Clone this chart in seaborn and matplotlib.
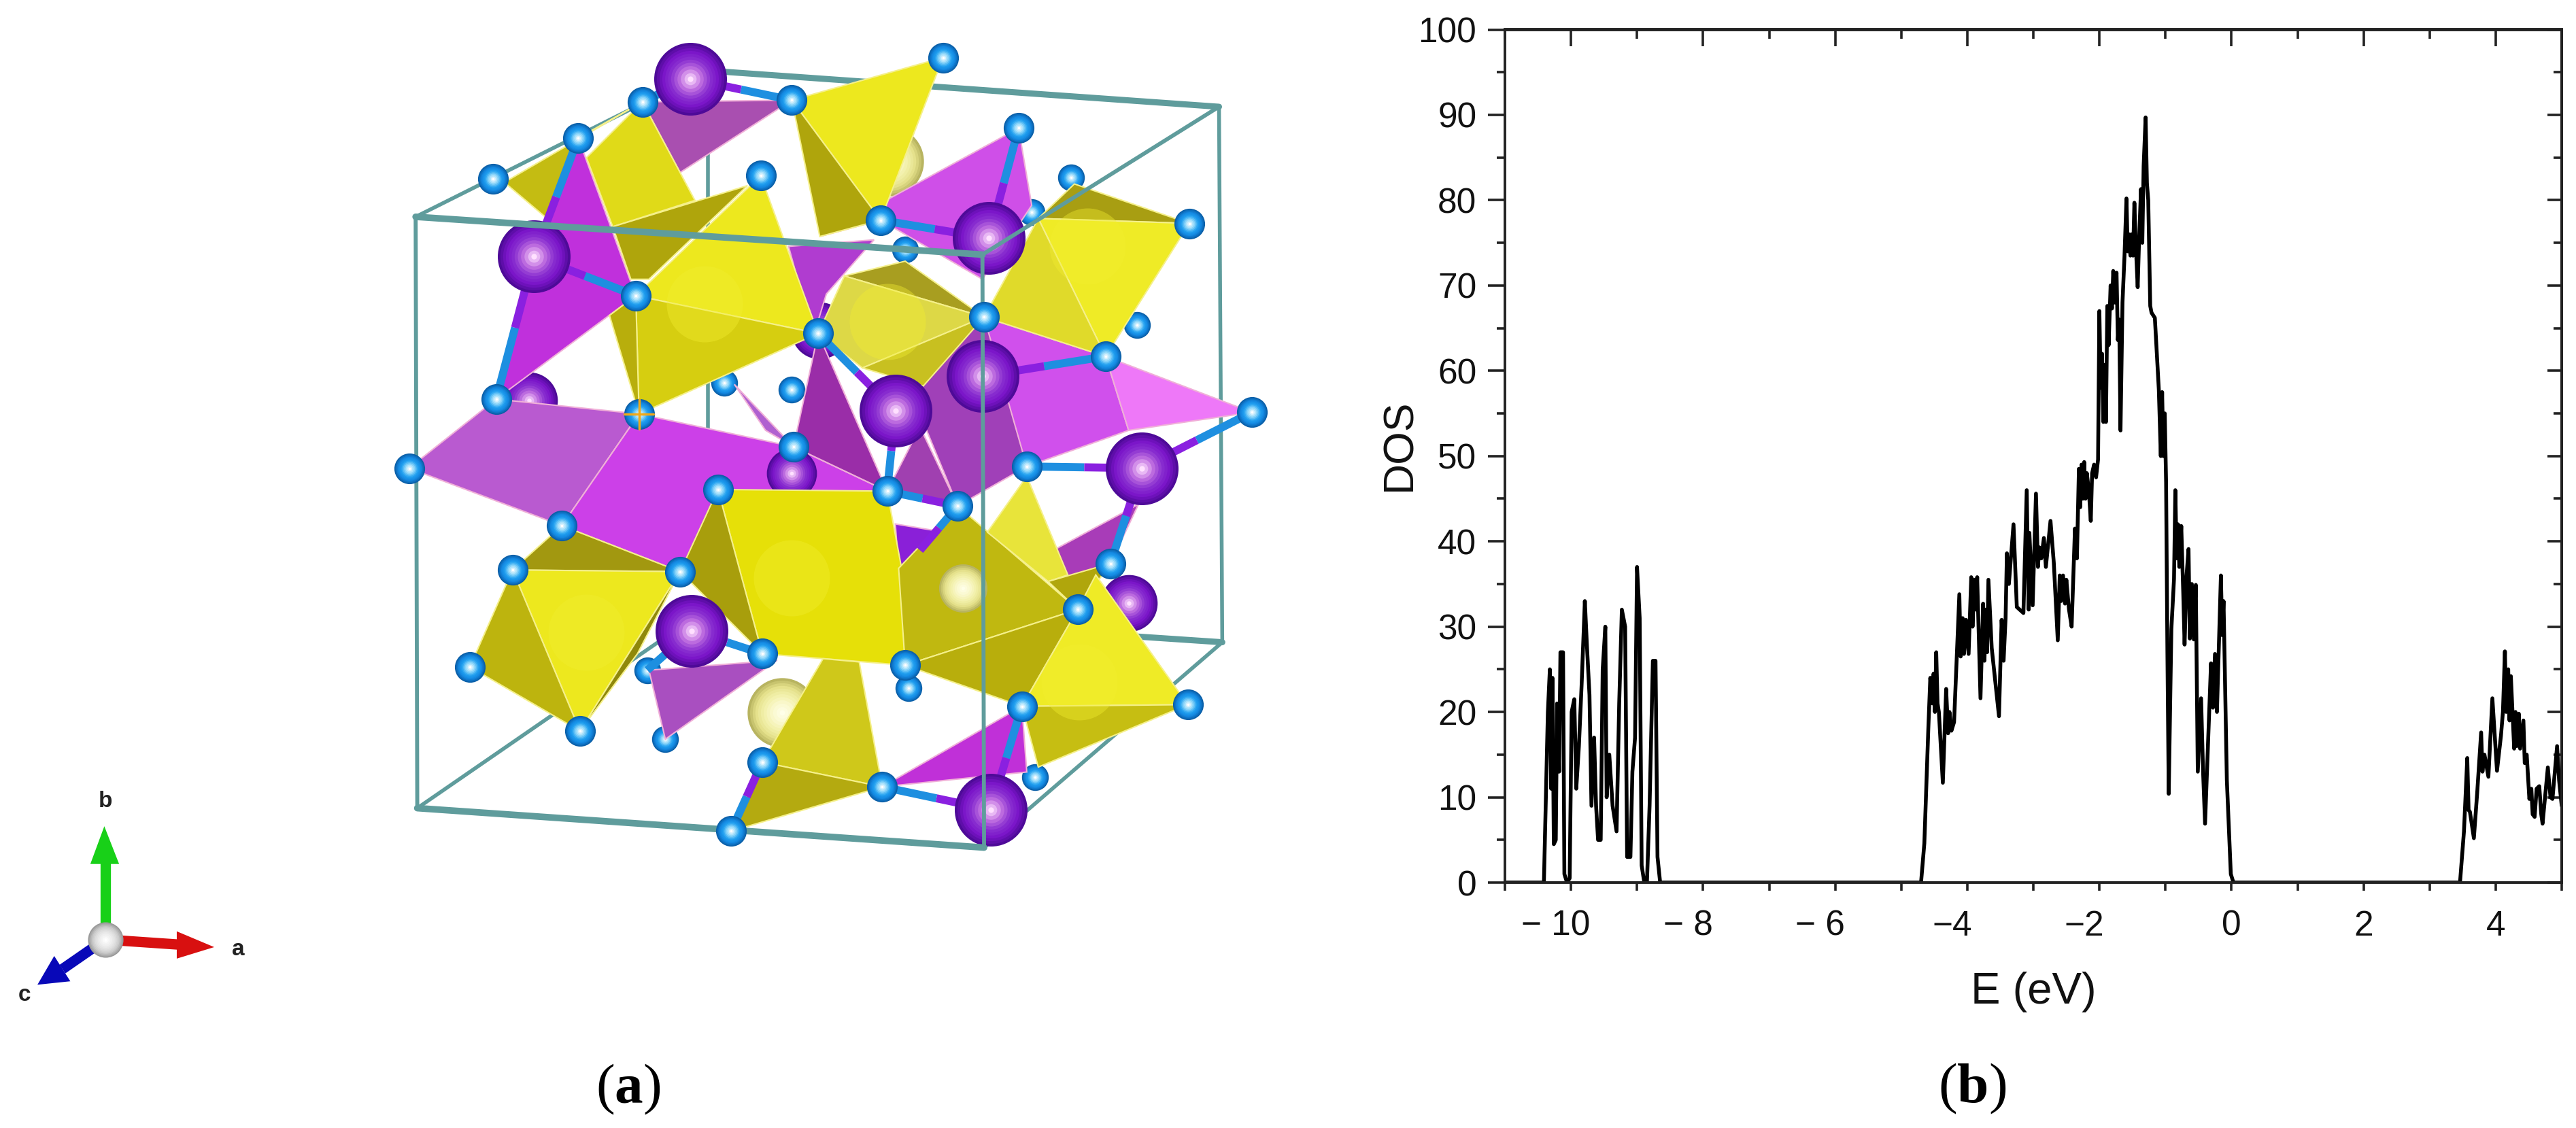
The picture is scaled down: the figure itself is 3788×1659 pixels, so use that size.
#!/usr/bin/env python3
"""Crystal structure sketch (a) and density of states (b)"""

import matplotlib.pyplot as plt
import numpy as np
import pandas as pd
import seaborn as sns
from matplotlib.colors import LinearSegmentedColormap
from matplotlib.patches import Polygon
from matplotlib.ticker import MultipleLocator
from matplotlib.transforms import ScaledTranslation

sns.set_theme(style='ticks')
plt.rcParams['font.family'] = ['Liberation Sans', 'DejaVu Sans']
plt.rcParams['mathtext.fontset'] = 'custom'
plt.rcParams['mathtext.rm'] = 'Liberation Serif'
plt.rcParams['mathtext.bf'] = 'Liberation Serif:bold'

# DOS curve, panel (b)
band1_e = [-11.0, -10.41, -10.38, -10.35, -10.32, -10.30, -10.28, -10.26, -10.23, -10.21, -10.18, -10.16, -10.12,
           -10.10, -10.06, -10.02, -9.99, -9.95, -9.92, -9.88, -9.84, -9.79, -9.76, -9.72, -9.69, -9.65, -9.62,
           -9.59, -9.55, -9.52, -9.48, -9.46, -9.42, -9.37, -9.31, -9.27, -9.23, -9.18, -9.15, -9.10, -9.07, -9.03,
           -9.00, -8.96, -8.93, -8.89, -8.85, -8.81, -8.76, -8.72, -8.69, -8.65]
band1_dos = [0, 0, 10, 20, 25, 11, 24, 4.5, 5, 21, 13, 27, 27,
             1, 0, 0.5, 20, 21.5, 11, 16, 23, 33, 28, 22, 9, 17, 9,
             5, 5, 25, 30, 10, 15, 9, 6, 21, 32, 30, 3, 3, 13, 17,
             37, 31, 2, 0, 0, 9, 26, 26, 3, 0]

band2_e = [-4.70, -4.65, -4.59, -4.56, -4.53, -4.51, -4.49, -4.47, -4.45, -4.43,
           -4.37, -4.32, -4.29, -4.27, -4.24, -4.20, -4.12, -4.10, -4.07, -4.05,
           -4.02, -3.98, -3.94, -3.92, -3.89, -3.87, -3.85, -3.80, -3.76, -3.74,
           -3.72, -3.70, -3.68, -3.63, -3.52, -3.48, -3.45, -3.42, -3.40, -3.37,
           -3.33, -3.30, -3.25, -3.15, -3.10, -3.07, -3.06, -3.01, -2.96, -2.93,
           -2.91, -2.88, -2.84, -2.81, -2.74, -2.69, -2.63, -2.60, -2.58, -2.55,
           -2.52, -2.50, -2.46, -2.42, -2.37, -2.34, -2.31, -2.29, -2.27, -2.25,
           -2.23, -2.21, -2.19, -2.16, -2.13, -2.11, -2.08, -2.05, -2.02, -2.00,
           -1.98, -1.96, -1.94, -1.92, -1.90, -1.88, -1.86, -1.83, -1.81, -1.79,
           -1.77, -1.74, -1.72, -1.70, -1.68, -1.65, -1.62, -1.59, -1.57, -1.55,
           -1.53, -1.51, -1.49, -1.47, -1.45, -1.42, -1.40, -1.37, -1.35, -1.33,
           -1.30, -1.28, -1.26, -1.23, -1.21, -1.16, -1.13, -1.10, -1.07, -1.05,
           -1.03, -1.01, -0.99, -0.97, -0.95, -0.91, -0.87, -0.85, -0.83, -0.81,
           -0.79, -0.76, -0.73, -0.71, -0.68, -0.65, -0.63, -0.60, -0.57, -0.54,
           -0.51, -0.46, -0.43, -0.40, -0.34, -0.31, -0.28, -0.25, -0.22, -0.16,
           -0.14, -0.12, -0.07, -0.01, 0.03]
band2_dos = [0, 4.6, 18, 24, 21, 24.5, 20, 27, 21, 20,
             11.7, 22.7, 17.5, 20, 17.8, 18.8, 33.8, 26.5, 31, 26.8,
             30.8, 26.8, 35.8, 30, 35.5, 32, 35.8, 21.6, 32.7, 26,
             32, 27, 35.5, 27.5, 19.5, 30.8, 26, 31, 38.6, 35,
             39, 42, 32.3, 31.6, 46, 32, 41, 32.5, 45.6, 37,
             39.3, 38, 40.4, 37, 42.4, 37.5, 28.4, 36, 33, 36,
             32.7, 35.5, 32, 30, 41.5, 38, 48.5, 44, 49, 45,
             49.3, 45, 48, 46, 42.4, 48, 49, 47.5, 49.6, 67,
             58, 62, 54, 60.7, 54, 67.6, 63, 70, 67.3, 71.7,
             68, 71.5, 63.6, 66, 53, 68, 73.4, 80.2, 74, 76,
             73.5, 76, 73.5, 79.7, 75, 69.8, 75, 81.3, 75, 84,
             89.7, 82, 80, 67.6, 66.8, 66.2, 62, 57.8, 50, 57.5,
             50, 55, 46.9, 27, 10.4, 29.7, 35.6, 46, 38, 42,
             37, 41.8, 33.9, 27.9, 36, 39.1, 28.6, 35, 28.5, 34.9,
             13, 21.6, 13, 6.9, 19.4, 25.7, 20.5, 26.8, 20, 36,
             29, 33, 12, 1, 0]

band3_e = [3.46, 3.52, 3.57, 3.59, 3.61, 3.67, 3.72, 3.78, 3.80, 3.83, 3.89, 3.95, 4.02, 4.08, 4.11, 4.14, 4.16,
           4.19, 4.21, 4.23, 4.28, 4.30, 4.32, 4.35, 4.37, 4.42, 4.44, 4.47, 4.51, 4.54, 4.56, 4.59, 4.62, 4.66,
           4.69, 4.71, 4.79, 4.83, 4.86, 4.93, 4.96, 5.0]
band3_dos = [0, 6, 14.6, 8.5, 8.3, 5.2, 10.5, 17.6, 13, 15, 12.4, 21.6, 13.1, 17.2, 20, 27.1, 20,
             25, 19, 24.2, 15.7, 20, 16, 19.8, 15.7, 19, 14, 15, 9.8, 11, 8, 7.7, 11, 11.3,
             8, 6.9, 13.5, 10, 9.8, 16, 12, 9]

major_x = [-10, -8, -6, -4, -2, 0, 2, 4]
major_x_labels = ['\u2212 10', '\u2212 8', '\u2212 6', '\u22124', '\u22122', '0', '2', '4']

# Structure sketch, panel (a): everything below is in the axes units of the sketch
box_back_thick = [((431, 370), (744, 391)), ((431, 43), (742, 65))]
box_back_thin = [((431, 43), (431, 370)), ((254, 492), (431, 370)), ((599, 516), (744, 391)), ((742, 65), (744, 391)),
                 ((253, 132), (431, 43))]
box_front_thick = [((253, 132), (598, 155)), ((254, 492), (599, 516))]
box_front_thin = [((253, 132), (254, 492)), ((598, 155), (599, 516)), ((598, 155), (742, 65))]

O = {1: (391, 62), 2: (482, 61), 3: (574, 35), 4: (352, 84), 5: (300, 109), 6: (463, 107), 7: (620, 78),
     8: (652, 108), 9: (536, 134), 10: (724, 136), 11: (628, 129), 12: (387, 180), 13: (551, 152), 14: (599, 193),
     15: (692, 198), 16: (498, 203), 17: (673, 217), 18: (302, 243), 19: (389, 252), 20: (441, 233), 21: (482, 237),
     22: (762, 251), 23: (483, 272), 24: (249, 285), 25: (625, 284), 26: (437, 298), 27: (540, 299), 28: (583, 308),
     29: (342, 320), 30: (312, 347), 31: (414, 348), 32: (676, 343), 33: (656, 371), 34: (464, 398), 35: (551, 405),
     36: (553, 419), 37: (286, 406), 38: (394, 408), 39: (622, 430), 40: (723, 429), 41: (353, 445), 42: (405, 450),
     43: (464, 464), 44: (537, 479), 45: (630, 473), 46: (445, 506)}
back_oxygens = [8, 11, 13, 15, 20, 21, 36, 38, 42, 45]
front_oxygens = [k for k in O if k not in back_oxygens]

K = {'p1': (420, 48), 'p2': (325, 156), 'p3': (602, 145), 'p5': (545, 250), 'p6': (598, 229), 'p7': (695, 285),
     'p10': (421, 384), 'p11': (603, 493)}
back_purple = [(499, 201), (322, 244), (687, 367)]
mid_purple = [(482, 288)]
pale_back = [(541, 98), (476, 434)]
pale_front = [(586, 358)]
inner_spheres = [(429, 185), (357, 385), (482, 352), (540, 196), (662, 150), (657, 415)]

purple_faces = [
    ('#A94FB0', [O[1], O[2], (414, 105)]),
    ('#C030DC', [O[4], O[12], O[18], (325, 156)]),
    ('#CF4FE8', [O[7], (628, 125), (598, 170), O[9], (499, 144)]),
    ('#B03CD0', [(480, 150), (532, 146), (503, 179), (495, 205)]),
    ('#D050EC', [O[14], O[17], (687, 262), O[25], (565, 255)]),
    ('#EE78F8', [O[17], O[22], (687, 262)]),
    ('#B95AD0', [O[24], O[18], O[19], O[29]]),
    ('#CC40E8', [O[19], O[23], O[27], (540, 320), O[31], O[29]]),
    ('#A040B8', [(555, 240), O[14], O[25], O[28]]),
    ('#B060D0', [(447, 234), O[23], (466, 262)]),
    ('#9A2DA8', [O[16], O[27], O[23]]),
    ('#A040B0', [O[27], O[28], (560, 260)]),
    ('#A83CB8', [(643, 334), (693, 307), O[32], (648, 352)]),
    ('#A94FC0', [(395, 408), (473, 402), O[42]]),
    ('#C030D8', [O[39], (625, 470), O[44]]),
    ('#8A20D8', [(545, 319), (569, 323), (547, 347)]),
]
yellow_faces = [
    ('#EDE81E', [O[2], O[3], O[9]]),
    ('#AFA50C', [O[2], (499, 144), O[9]]),
    ('#C4BC12', [(307, 111), (333, 133), O[4], O[1]]),
    ('#E0DA18', [O[1], (423, 122), (373, 138), (357, 96)]),
    ('#AFA50C', [(455, 113), (373, 138), (384, 170), (395, 170)]),
    ('#EDE81E', [O[6], O[12], O[16]]),
    ('#D6CE10', [O[12], O[16], O[19]]),
    ('#B8AE0C', [(371, 192), O[12], O[19]]),
    ('#A89E12', [(654, 112), (632, 133), O[10]]),
    ('#EFEB26', [(632, 133), O[10], O[17]]),
    ('#E0DA2A', [O[14], (632, 133), O[17]]),
    ('#A89E20', [(514, 168), (551, 159), O[14]]),
    ('#DDD846', [(514, 168), O[14], (525, 224), O[16]]),
    ('#C8C020', [(525, 224), O[14], (562, 235)]),
    ('#A29810', [O[29], O[30], O[31]]),
    ('#EDE81E', [O[30], O[31], O[41]]),
    ('#BDB40E', [O[30], O[37], O[41]]),
    ('#8F880A', [O[31], O[41], (388, 398)]),
    ('#E6E008', [O[26], O[27], (549, 347), O[35], O[34]]),
    ('#A89E0C', [O[26], O[31], O[34]]),
    ('#C0B810', [O[28], (547, 346), O[35], O[33]]),
    ('#E8E43A', [(625, 290), (601, 324), (638, 354), (650, 350)]),
    ('#B0A60C', [(638, 354), O[32], O[33]]),
    ('#B8AE0C', [O[35], O[33], O[39]]),
    ('#EFEB26', [(667, 350), O[40], O[39], O[33]]),
    ('#C6BE12', [O[39], O[40], (632, 467)]),
    ('#CFC81A', [(501, 401), (523, 403), O[44], O[43]]),
    ('#B4AA10', [O[43], O[44], O[46]]),
]
bonds = [(O[4], K['p2']), (O[18], K['p2']), (O[12], K['p2']), (O[1], K['p1']), (O[2], K['p1']), (O[9], K['p3']),
         (O[7], K['p3']), (O[16], K['p5']), (O[17], K['p6']), (O[25], K['p7']), (O[22], K['p7']), (O[32], K['p7']),
         (O[27], K['p5']), (O[34], K['p10']), (O[38], K['p10']), (O[44], K['p11']), (O[39], K['p11']),
         (O[46], O[43]), (O[27], O[28]), (O[28], (560, 335))]

oxygen_shade = ['#0A5FA8', '#1386E0', '#20A0F0', '#90D8FA', '#FFFFFF']
purple_shade = ['#4E0A98', '#7A14C8', '#8A30D0', '#C070E0', '#FFE0FF']
pale_shade = ['#B8B460', '#E4E08A', '#F2F0A8', '#FAF8CC', '#FFFFE8']
centre_shade = ['#9A9A9A', '#C8C8C8', '#E0E0E0', '#F0F0F0', '#FFFFFF']

axis_arrows = [
    ('#18D018', (64, 572), (64, 525), [(63.5, 503), (55, 526), (72.5, 526)]),
    ('#D81010', (64, 572), (108, 575), [(130.4, 576.6), (107.6, 567), (107.6, 583.6)]),
    ('#0808B8', (64, 572), (38, 590), [(22.8, 599.5), (33, 582), (42.8, 597.4)]),
]
axis_letters = [('b', 64, 488), ('a', 145, 578), ('c', 15, 606)]

W, H = 3788, 1659


def scatter(ax, points, size, color, zorder, alpha=1.0):
    """One layer of round atoms"""
    df = pd.DataFrame(points, columns=['x', 'y'])
    sns.scatterplot(data=df, x='x', y='y', s=size, color=color, linewidth=0, alpha=alpha, zorder=zorder, ax=ax,
                    legend=False, clip_on=False)


def spheres(ax, points, size, colors, zorder):
    """Fake shading with shrinking discs"""
    cmap = LinearSegmentedColormap.from_list('shade', colors)
    for t in np.linspace(0, 1, 12):
        scatter(ax, points, size * (1 - t) ** 1.6 + size * 0.006, cmap(t), zorder)


def draw_faces(ax, faces, edge, zorder):
    for color, pts in faces:
        ax.add_patch(Polygon(pts, closed=True, facecolor=color, edgecolor=edge, linewidth=1.5, zorder=zorder))


def draw_edges(ax, edges, width, zorder):
    for a, b in edges:
        ax.plot([a[0], b[0]], [a[1], b[1]], color='#5F9C9C', lw=width, zorder=zorder)


def draw_structure(ax):
    ax.set_xlim(0, W / 2.4158)
    ax.set_ylim(H / 2.4158, 0)
    ax.axis('off')

    draw_edges(ax, box_back_thick, 6.5, 1)
    draw_edges(ax, box_back_thin, 4, 1)

    spheres(ax, back_purple, 3600, purple_shade, 2)
    spheres(ax, pale_back, 5400, pale_shade, 2)
    spheres(ax, [O[k] for k in back_oxygens], 800, oxygen_shade, 2)

    draw_faces(ax, purple_faces, '#F0B0D8', 3)
    spheres(ax, mid_purple, 2800, purple_shade, 3.5)
    draw_faces(ax, yellow_faces, '#F5F08A', 4)
    scatter(ax, inner_spheres, 6500, '#F2EE30', 5, alpha=0.4)
    spheres(ax, pale_front, 2600, pale_shade, 5)

    for a, b in bonds:
        mx, my = (a[0] + b[0]) / 2, (a[1] + b[1]) / 2
        ax.plot([a[0], mx], [a[1], my], color='#1E8FE0', lw=8.5, solid_capstyle='butt', zorder=6)
        ax.plot([mx, b[0]], [my, b[1]], color='#8A20E0', lw=8.5, solid_capstyle='butt', zorder=6)

    draw_edges(ax, box_front_thick, 7, 8)
    draw_edges(ax, box_front_thin, 4.2, 8)

    spheres(ax, list(K.values()), 5900, purple_shade, 7)
    spheres(ax, [O[k] for k in front_oxygens], 1050, oxygen_shade, 9)
    ax.plot([O[19][0] - 9, O[19][0] + 9], [O[19][1], O[19][1]], color='#F0A818', lw=2.5, zorder=10)
    ax.plot([O[19][0], O[19][0]], [O[19][1] - 9, O[19][1] + 9], color='#F0A818', lw=2.5, zorder=10)

    # a, b, c triad
    for color, start, end, head in axis_arrows:
        ax.plot([start[0], end[0]], [start[1], end[1]], color=color, lw=11, solid_capstyle='butt', zorder=10)
        ax.add_patch(Polygon(head, closed=True, facecolor=color, edgecolor='none', zorder=10))
    spheres(ax, [(64, 572)], 1400, centre_shade, 11)
    for letter, x, y in axis_letters:
        ax.text(x, y, letter, fontsize=24, fontweight='bold', color='#222222', ha='center', va='center')


def draw_dos(ax):
    df = pd.DataFrame({'E': band1_e + band2_e + band3_e, 'DOS': band1_dos + band2_dos + band3_dos})
    sns.lineplot(data=df, x='E', y='DOS', color='black', lw=4, estimator=None, sort=False, ax=ax)

    ax.set_xlim(-11, 5)
    ax.set_ylim(0, 100)
    ax.set_xticks(major_x)
    ax.set_xticklabels(major_x_labels)
    ax.xaxis.set_minor_locator(MultipleLocator(2, offset=1))
    ax.yaxis.set_major_locator(MultipleLocator(10))
    ax.yaxis.set_minor_locator(MultipleLocator(5))
    for spine in ax.spines.values():
        spine.set_linewidth(2.8)
        spine.set_color('#222222')

    ax.tick_params(axis='x', which='both', direction='out', length=8.6, width=2.6, color='#222222',
                   labelsize=37, pad=20, labelcolor='#111111')
    ax.tick_params(axis='y', which='major', direction='out', length=18, width=2.6, color='#222222',
                   labelsize=37, pad=12, labelcolor='#111111')
    ax.tick_params(axis='y', which='minor', direction='out', length=8.6, width=2.6, color='#222222')

    # top and right only carry inward ticks
    top = ax.secondary_xaxis('top')
    top.set_xticks(major_x)
    top.xaxis.set_minor_locator(MultipleLocator(2, offset=1))
    top.tick_params(which='major', direction='in', length=18, width=2.6, color='#222222', labeltop=False)
    top.tick_params(which='minor', direction='in', length=10, width=2.6, color='#222222')
    right = ax.secondary_yaxis('right')
    right.yaxis.set_major_locator(MultipleLocator(10))
    right.yaxis.set_minor_locator(MultipleLocator(5))
    right.tick_params(which='major', direction='in', length=15, width=2.6, color='#222222', labelright=False)
    right.tick_params(which='minor', direction='in', length=9, width=2.6, color='#222222')
    for sec in (top, right):
        for spine in sec.spines.values():
            spine.set_linewidth(2.8)
            spine.set_color('#222222')

    # labels with a spaced minus sit left of their tick
    shift = ScaledTranslation(-22 / 100, 0, ax.figure.dpi_scale_trans)
    for lab in ax.get_xticklabels()[:5]:
        lab.set_transform(lab.get_transform() + shift)

    ax.set_xlabel('E (eV)', fontsize=47, color='#111111')
    ax.set_ylabel('DOS', fontsize=45, color='#111111')
    ax.xaxis.set_label_coords(0.5, -0.1285)
    ax.xaxis.label.set_va('center')
    ax.yaxis.set_label_coords(-0.0997, 0.513)
    ax.yaxis.label.set_va('center')


def main():
    fig = plt.figure(figsize=(W / 100, H / 100), dpi=100, facecolor='white')

    ax_a = fig.add_axes([0, 0, 1, 1])
    draw_structure(ax_a)

    ax_b = fig.add_axes([2213 / W, 1 - 1298 / H, (3767 - 2213) / W, (1298 - 43.5) / H])
    ax_b.set_facecolor('white')
    draw_dos(ax_b)

    for name, px, py in [('a', 924, 1602), ('b', 2900, 1601)]:
        fig.text(px / W, 1 - py / H, '($\\mathbf{%s}$)' % name, fontsize=60, color='black',
                 family='Liberation Serif', ha='center', va='center')

    fig.savefig('out.png', dpi=100)
    plt.close(fig)


if __name__ == "__main__":
    main()
